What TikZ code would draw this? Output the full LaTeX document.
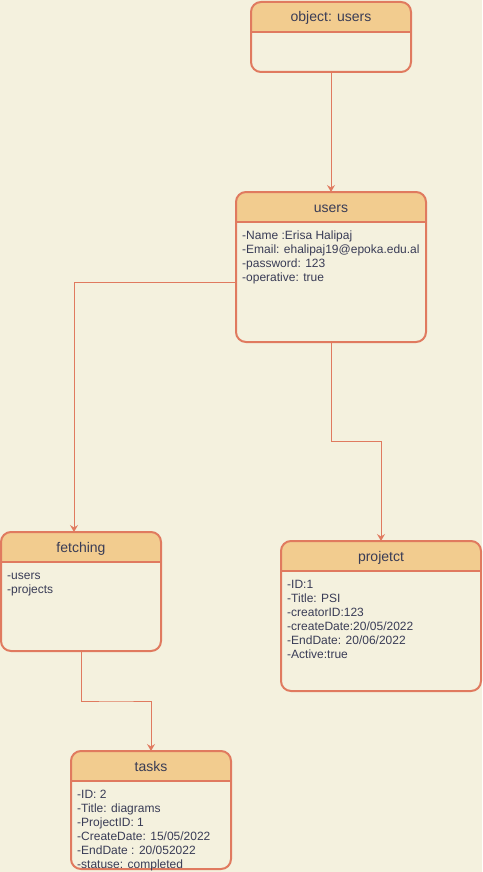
\documentclass[tikz,border=0pt]{standalone}
\usepackage{fontspec}
\setmainfont{Liberation Sans}
\usetikzlibrary{arrows.meta,calc}
\definecolor{bgc}{HTML}{F4F1DE}
\definecolor{hdrc}{HTML}{F2CC8F}
\definecolor{strokec}{HTML}{E07A5F}
\definecolor{textc}{HTML}{393C56}
\tikzset{
 boxshape/.style={rectangle, inner sep=0pt, outer sep=0pt, draw=none},
 boxline/.style={draw=strokec, line width=2pt, rounded corners=10pt},
 hdrline/.style={draw=strokec, line width=2pt},
 titletext/.style={text=textc, font=\fontsize{14}{16}\selectfont, inner sep=0pt, anchor=base},
 bodytext/.style={text=textc, font=\fontsize{12}{14}\selectfont, inner sep=0pt, anchor=north west, align=left},
 conn/.style={draw=strokec, line width=1pt, -{Stealth[length=7pt,width=8pt,inset=2.5pt]}},
}
% name, cx, cy, w, h, title, body
\newcommand\umlbox[7]{%
 \node[boxshape, minimum width=#4pt, minimum height=#5pt] (#1) at (#2,#3) {};
 \begin{scope}
  \clip (#1.north west) rectangle ([yshift=-30pt]#1.north east);
  \fill[hdrc, rounded corners=10pt] (#1.north west) rectangle (#1.south east);
 \end{scope}
 \draw[hdrline] ([yshift=-30pt]#1.north west) -- ([yshift=-30pt]#1.north east);
 \draw[boxline] (#1.north west) rectangle (#1.south east);
 \node[titletext] (#1-title) at ([yshift=-20pt]#1.north) {#6};
 \node[bodytext] (#1-body) at ([xshift=6pt,yshift=-37.7pt]#1.north west) {#7};
}
\begin{document}
\begin{tikzpicture}[x=1pt,y=-1pt]
\fill[bgc] (0,0) rectangle (482,872);
\useasboundingbox (0,0) rectangle (482,872);

\umlbox{obj}{331}{37}{160}{70}{object: users}{}
\umlbox{users}{331}{267}{190}{150}{users}{\strut-Name :Erisa Halipaj\\-Email: ehalipaj19@epoka.edu.al\\-password: 123\\-operative: true}
\umlbox{fetching}{81}{591.5}{160}{119}{fetching}{\strut-users\\-projects}
\umlbox{projetct}{381}{616}{200}{150}{projetct}{\strut-ID:1\\-Title: PSI\\-creatorID:123\\-createDate:20/05/2022\\-EndDate: 20/06/2022\\-Active:true}
\umlbox{tasks}{151}{810}{160}{118}{tasks}{\strut-ID: 2\\-Title: diagrams\\-ProjectID: 1\\-CreateDate: 15/05/2022\\-EndDate : 20/052022\\-statuse: completed}

\draw[conn] (obj.south) -- (users.north);
\draw[conn] ([yshift=-15pt]users.west) -| ([xshift=-7pt]fetching.north);
\draw[conn] (users.south) |- ($(users.south)!.5!(projetct.north)$) -| (projetct.north);
\draw[conn] (fetching.south) |- ($(fetching.south)!.5!(tasks.north)$) -| (tasks.north);
\end{tikzpicture}
\end{document}
